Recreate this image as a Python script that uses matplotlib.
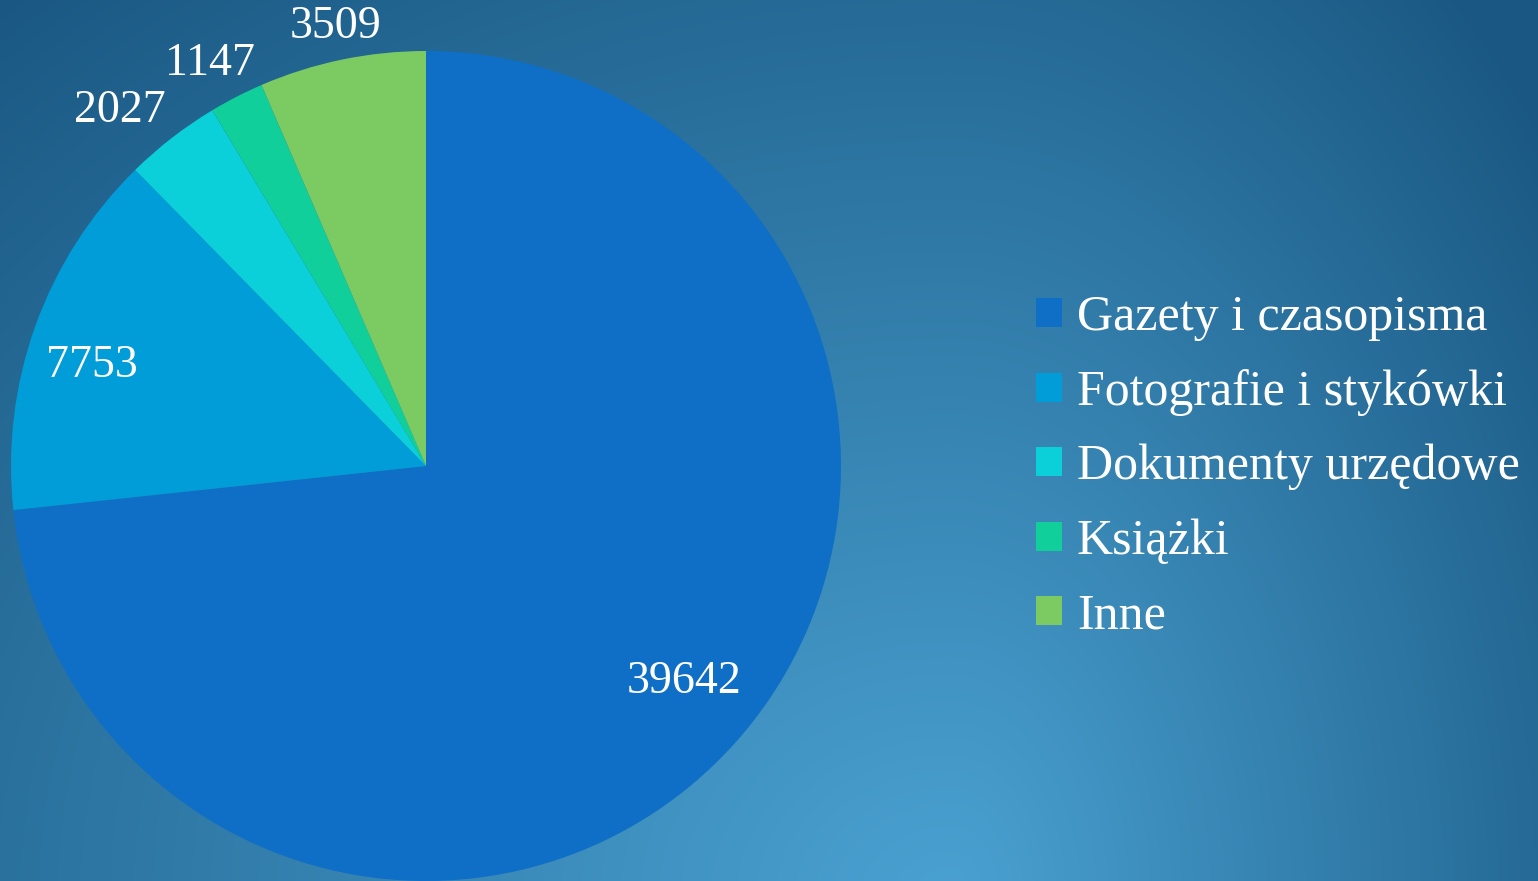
import numpy as np
import matplotlib
matplotlib.use("Agg")
import matplotlib.pyplot as plt
from matplotlib.colors import to_rgb

# ── data ──────────────────────────────────────────────────────────────────────
categories = ["Gazety i czasopisma", "Fotografie i stykówki",
              "Dokumenty urzędowe", "Książki", "Inne"]
values = [39642, 7753, 2027, 1147, 3509]
colors = ["#0F6FC6", "#009DD9", "#0BD0D9", "#10CF9B", "#7CCA62"]

# label placement (fraction of radius, angular nudge in degrees)
label_r = [0.81, 0.84, 1.13, 1.10, 1.08]
label_shift = [2, 3, 3, 1, 0]

W, H, DPI = 1538, 881, 100
fig = plt.figure(figsize=(W / DPI, H / DPI), dpi=DPI)
plt.rcParams["font.family"] = ["Liberation Serif", "DejaVu Serif"]

# ── background gradient ───────────────────────────────────────────────────────
bg = fig.add_axes([0, 0, 1, 1])
yy, xx = np.mgrid[0:H, 0:W].astype(float)
cx, cy = 950, 900
xs = np.where(xx < cx, 1200.0, 650.0)
d = np.sqrt(((xx - cx) / xs) ** 2 + ((yy - cy) / 1000.0) ** 2)
d = np.clip(d, 0, 1.2) / 1.2
light = np.array(to_rgb("#4AA2D2"))
dark = np.array(to_rgb("#1A5883"))
img = light[None, None, :] * (1 - d[..., None]) + dark[None, None, :] * d[..., None]
bg.imshow(img, extent=[0, W, H, 0], aspect="auto")
bg.axis("off")

# ── pie ───────────────────────────────────────────────────────────────────────
cxp, cyp, R = 426, 466, 415
ax = fig.add_axes([(cxp - R) / W, (H - cyp - R) / H, 2 * R / W, 2 * R / H])
wedges, _ = ax.pie(values, colors=colors, startangle=90, counterclock=False,
                   radius=1.0, wedgeprops=dict(linewidth=0))
ax.set_xlim(-1, 1)
ax.set_ylim(-1, 1)
ax.set_aspect("equal")
ax.axis("off")

for w, v, r, s in zip(wedges, values, label_r, label_shift):
    ang = np.deg2rad((w.theta1 + w.theta2) / 2 + s)
    ax.text(r * np.cos(ang), r * np.sin(ang), f"{v}", color="white",
            fontsize=33, ha="center", va="center", clip_on=False)

# ── legend ────────────────────────────────────────────────────────────────────
leg = fig.legend(wedges, categories, loc="center left",
                 bbox_to_anchor=(1036 / W, (H - 467) / H),
                 frameon=False, fontsize=36, labelcolor="white",
                 handlelength=0.52, handleheight=0.52, handletextpad=0.3,
                 labelspacing=0.56, borderaxespad=0, borderpad=0)

fig.savefig("out.png", dpi=DPI)
